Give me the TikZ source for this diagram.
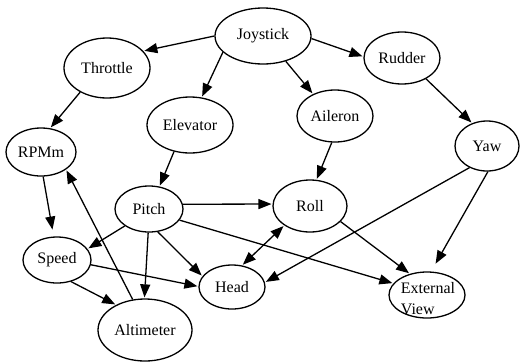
\documentclass[tikz,border=0pt]{standalone}
\usepackage{fontspec}
\setmainfont{Liberation Serif}
\usetikzlibrary{shapes.geometric,arrows.meta}
\begin{document}
\begin{tikzpicture}[x=1pt,y=-1pt,
  gnode/.style={draw,ellipse,line width=1.3pt,inner sep=0pt,font=\fontsize{16}{21}\selectfont},
  sz/.style 2 args={minimum width=#1pt,minimum height=#2pt},
  edge/.style={-{Triangle[length=13pt,width=10pt]},line width=1.3pt,shorten >=1pt},
  bedge/.style={{Triangle[length=13pt,width=10pt]}-{Triangle[length=13pt,width=10pt]},line width=1.3pt,shorten >=1pt,shorten <=1pt}]
\fill[white] (0,0) rectangle (521,362);
\useasboundingbox (0,0) rectangle (521,362);

\node[gnode,sz={96}{56}] (joy) at (263,36) {Joystick};
\node[gnode,sz={86}{60}] (thr) at (107,68) {Throttle};
\node[gnode,sz={76}{52}] (rud) at (402,58) {Rudder};
\node[gnode,sz={86}{56}] (elev) at (190,125) {Elevator};
\node[gnode,sz={76}{52}] (ail) at (335,116) {Aileron};
\node[gnode,sz={70}{48}] (rpm) at (41,152) {RPMm};
\node[gnode,sz={64}{50}] (yaw) at (487,146) {Yaw};
\node[gnode,sz={68}{46}] (pitch) at (149,209) {Pitch};
\node[gnode,sz={74}{52}] (roll) at (310,206) {Roll};
\node[gnode,sz={68}{46}] (speed) at (57,260) {Speed};
\node[gnode,sz={66}{44}] (head) at (232,287) {Head};
\node[gnode,sz={94}{62}] (alt) at (145,330) {Altimeter};
\node[gnode,sz={76}{46}] (ext) at (427,295) {};
\node[font=\fontsize{16}{21}\selectfont,align=left,inner sep=0pt] (extlabel) at (428,299) {External\\View};

\draw[edge] (joy.180) -- (thr.25);
\draw[edge] (joy.202) -- (elev.67);
\draw[edge] (joy.-48) -- (ail.135);
\draw[edge] (joy.-3) -- (rud.178);
\draw[edge] (thr.222) -- (rpm.69);
\draw[edge] (rud.-41) -- (yaw.123);
\draw[edge] (elev.239) -- (pitch.65);
\draw[edge] (ail.263) -- (roll.76);
\draw[edge,shorten >=7pt] (rpm.-85) -- (speed.98);
\draw[edge] (alt.112) -- (rpm.-35);
\draw[edge] (pitch.8) -- (roll.177);
\draw[edge] (pitch.215) -- (speed.20);
\draw[edge] (pitch.-92) -- (alt.91);
\draw[edge] (pitch.-69) -- (head.160);
\draw[edge] (pitch.-20) -- (ext.161);
\draw[edge] (speed.-57) -- (alt.139);
\draw[edge] (speed.-8) -- (head.179);
\draw[bedge] (head.65) -- (roll.217);
\draw[edge] (roll.-27) -- (ext.129);
\draw[edge] (yaw.231) -- (head.8);
\draw[edge,shorten >=9pt] (yaw.-88) -- (ext.80);
\end{tikzpicture}
\end{document}
